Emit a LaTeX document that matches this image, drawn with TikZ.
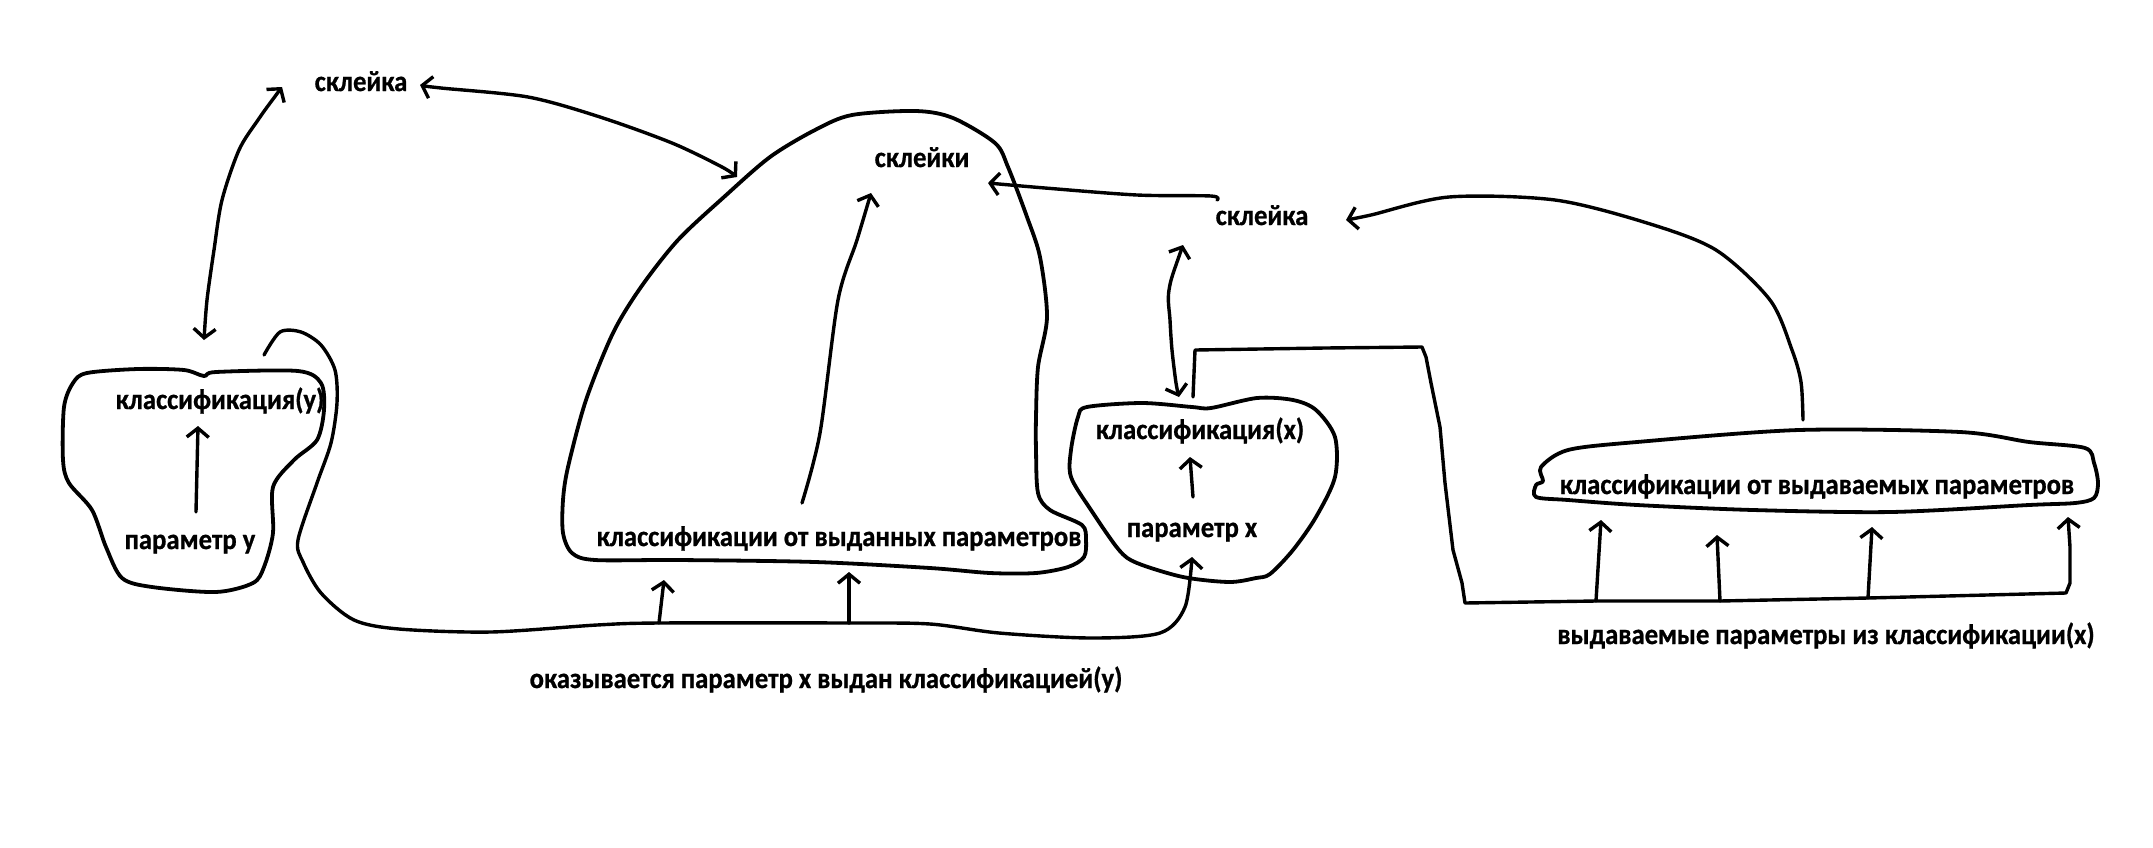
\documentclass[tikz,border=0pt]{standalone}
\usepackage{fontspec}
\setmainfont{Carlito}[BoldFeatures={FakeBold=0.8}]
\usetikzlibrary{arrows.meta}
\newcommand\condtxt[1]{\scalebox{0.92}[1]{#1}}
\tikzset{
  lbl/.style={font=\fontsize{29}{34}\selectfont\bfseries, inner sep=0pt, anchor=base},
  ln/.style={line width=3.4pt, line cap=round, line join=round},
  blob/.style={line width=3.8pt, line join=round},
  tip/.tip={Straight Barb[length=9pt,width=22pt]},
  ar/.style={ln, -tip},
  dar/.style={ln, tip-tip},
}
\begin{document}
\begin{tikzpicture}[x=1pt,y=-1pt]
\useasboundingbox (0,0) rectangle (2153,847);
\fill[white] (0,0) rectangle (2153,847);

% texts
\node[lbl] (sklA) at (361,91) {\condtxt{склейка}};
\node[lbl] (skli) at (922,167) {\condtxt{склейки}};
\node[lbl] (sklB) at (1262,225) {\condtxt{склейка}};
\node[lbl] (klY) at (220,409) {\condtxt{классификация(y)}};
\node[lbl] (parY) at (190,549) {\condtxt{параметр y}};
\node[lbl] (klOut) at (839,546) {\condtxt{классификации от выданных параметров}};
\node[lbl] (klX) at (1200,439) {\condtxt{классификация(x)}};
\node[lbl] (parX) at (1192,537) {\condtxt{параметр x}};
\node[lbl] (klIss) at (1817,494) {\condtxt{классификации от выдаваемых параметров}};
\node[lbl] (botA) at (826,688) {\condtxt{оказывается параметр x выдан классификацией(y)}};
\node[lbl] (botB) at (1826,644) {\condtxt{выдаваемые параметры из классификации(x)}};

% blobs
\draw[blob] plot[smooth cycle] coordinates {(87,373) (138,369) (184,370) (204,376) (216,372) (298,371) (321,383) (324,410) (317,440) (294,460) (273,487) (273,533) (264,567) (253,583) (216,592) (152,587) (122,578) (106,547) (92,510) (69,483) (63,460) (64,407) (73,383)};
\draw[blob] plot[smooth cycle] coordinates {(563,533) (563,500) (568,467) (586,400) (613,333) (641,287) (678,240) (724,197) (770,157) (815,130) (852,115) (916,111) (953,118) (995,143) (1008,167) (1027,217) (1040,257) (1047,317) (1038,367) (1036,417) (1036,450) (1038,493) (1050,510) (1082,525) (1086,540) (1084,557) (1068,567) (1036,573) (990,573) (930,568) (815,562) (678,560) (595,560) (572,553)};
\draw[blob] plot[smooth cycle] coordinates {(1087,407) (1142,403) (1192,407) (1211,408) (1257,398) (1293,400) (1316,410) (1335,437) (1335,477) (1316,517) (1293,550) (1270,574) (1256,578) (1229,582) (1183,577) (1137,563) (1119,550) (1091,510) (1071,477) (1071,450) (1078,417)};
\draw[blob] plot[smooth cycle] coordinates {(1541,467) (1568,450) (1637,442) (1799,430) (1960,432) (2029,442) (2085,448) (2094,463) (2098,483) (2094,498) (2075,503) (2029,505) (1891,512) (1753,510) (1637,505) (1568,500) (1536,497) (1536,485) (1543,481)};

% connector end points
\coordinate (aA) at (420,85);
\coordinate (aB) at (737,177);
\coordinate (bA) at (282,87);
\coordinate (bB) at (204,340);
\coordinate (hook) at (264,355);
\coordinate (pxIn) at (1192,557);
\coordinate (j1) at (659,623);
\coordinate (j2) at (849,623);
\coordinate (t1) at (664,580);
\coordinate (t2) at (849,572);
\coordinate (iA) at (802,503);
\coordinate (iB) at (871,193);
\coordinate (sA) at (1217,200);
\coordinate (sB) at (988,183);
\coordinate (dA) at (1183,245);
\coordinate (dB) at (1179,397);
\coordinate (kA) at (1193,397);
\coordinate (k1) at (1596,601);
\coordinate (k2) at (1720,601);
\coordinate (k3) at (1868,598);
\coordinate (u1) at (1601,520);
\coordinate (u2) at (1717,535);
\coordinate (u3) at (1872,527);
\coordinate (u4) at (2068,517);
\coordinate (rA) at (1803,420);
\coordinate (rB) at (1346,220);
\coordinate (py0) at (196,512);
\coordinate (py1) at (198,426);
\coordinate (px0) at (1193,497);
\coordinate (px1) at (1190,457);

% connectors
\draw[dar] plot[smooth] coordinates {(aA) (441,88) (528,97) (600,117) (672,143) (722,167) (aB)};
\draw[dar] plot[smooth] coordinates {(bA) (258,120) (239,150) (222,200) (214,250) (207,300) (bB)};
\draw[ar] (py0) -- (py1);
\draw[ar] plot[smooth] coordinates {(hook) (280,332) (301,332) (321,345) (335,370) (337,403) (331,443) (317,483) (298,540) (303,562) (321,593) (354,620) (399,629) (491,632) (597,625) (j1) (j2) (930,624) (999,633) (1091,638) (1160,633) (1185,607) (pxIn)};
\draw[ar] (j1) -- (t1);
\draw[ar] (j2) -- (t2);
\draw[ar] plot[smooth] coordinates {(iA) (820,433) (838,300) (857,240) (iB)};
\draw[ar] plot[smooth] coordinates {(sA) (1211,196) (1137,195) (1045,188) (sB)};
\draw[dar] plot[smooth] coordinates {(dA) (1169,290) (1170,320) (1172,350) (1176,383) (dB)};
\draw[ar] (px0) -- (px1);
\draw[ar] (kA) -- (1195,350) -- (1325,348) -- (1422,347) -- (1426,357) -- (1431,383) -- (1440,427) -- (1445,483) -- (1453,550) -- (1462,583) -- (1465,603) -- (k1) -- (k2) -- (k3) -- (2066,593) -- (2070,583) -- (2070,547) -- (u4);
\draw[ar] (k1) -- (u1);
\draw[ar] (k2) -- (u2);
\draw[ar] (k3) -- (u3);
\draw[ar] plot[smooth] coordinates {(rA) (1801,382) (1792,350) (1770,300) (1716,250) (1647,223) (1555,200) (1449,197) (1371,215) (rB)};
\end{tikzpicture}
\end{document}
